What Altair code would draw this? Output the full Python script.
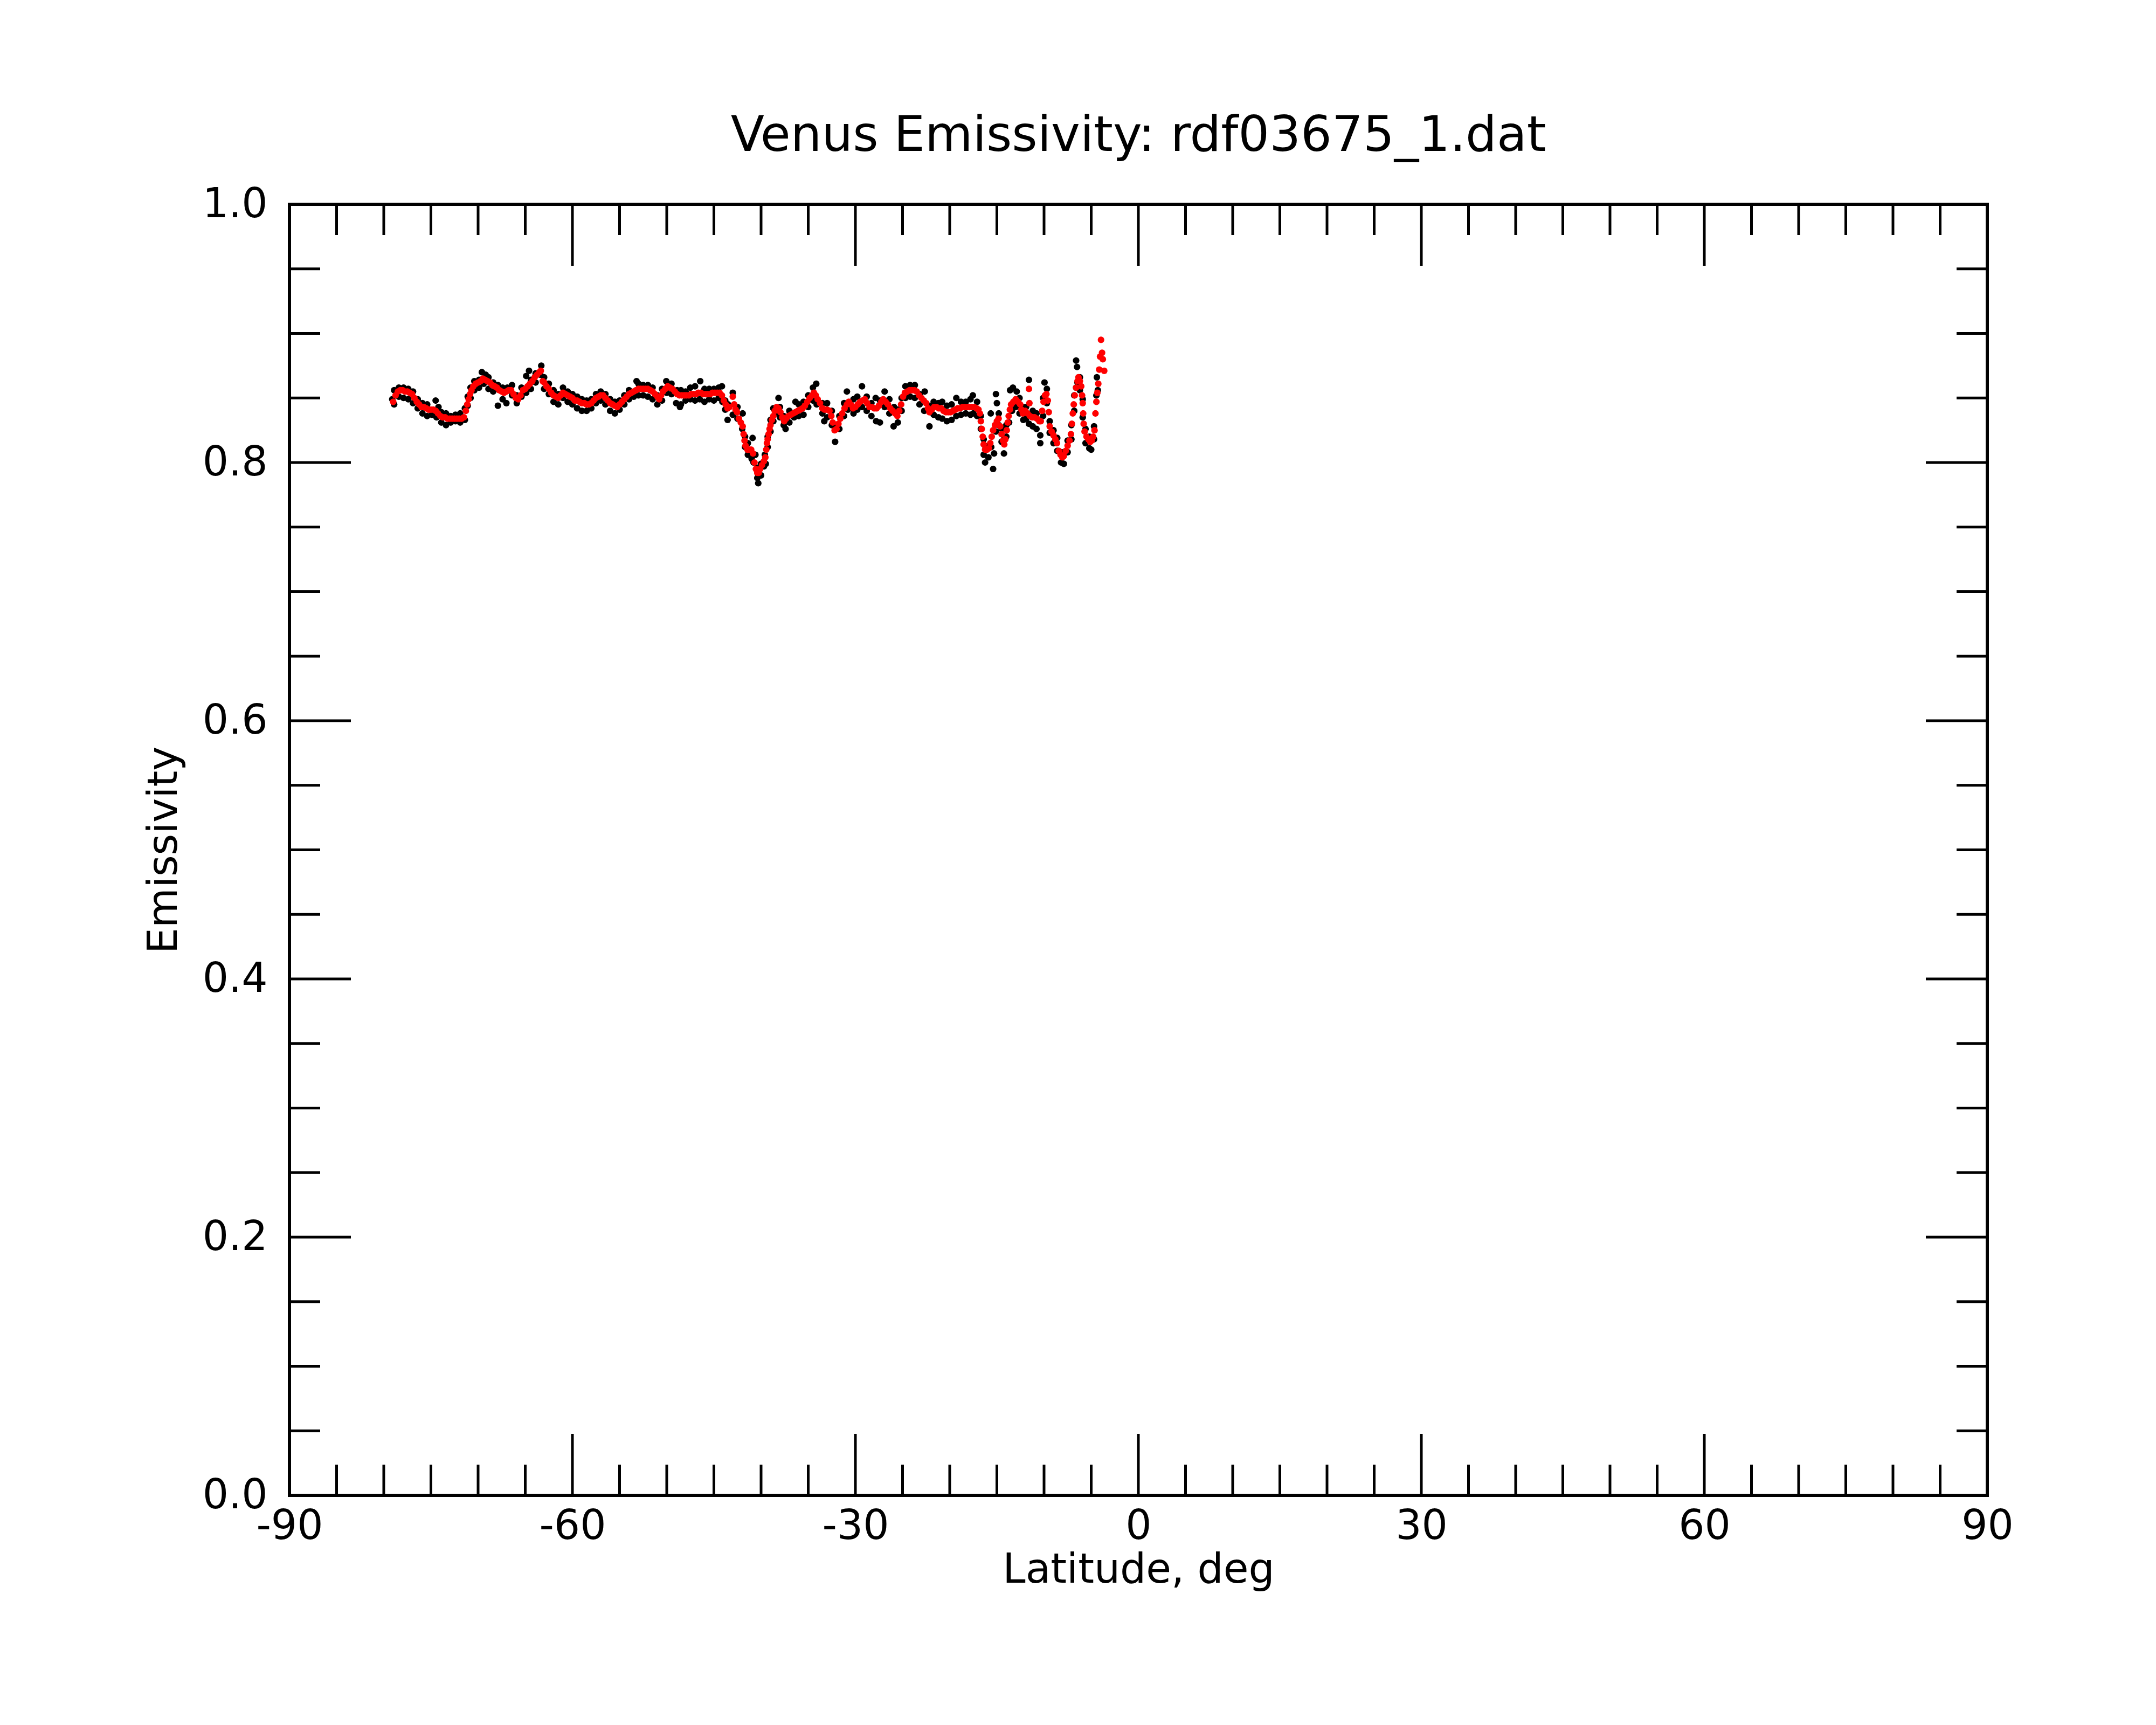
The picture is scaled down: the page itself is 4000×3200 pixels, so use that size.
import altair as alt
import pandas as pd

TITLE = "Venus Emissivity: rdf03675_1.dat"
X_TITLE = "Latitude, deg"
Y_TITLE = "Emissivity"
X_LABELS = [-90, -60, -30, 0, 30, 60, 90]
Y_LABELS = [0.0, 0.2, 0.4, 0.6, 0.8, 1.0]
X_MAJOR = [-60, -30, 0, 30, 60]
X_MINOR = [-85, -80, -75, -70, -65, -55, -50, -45, -40, -35, -25, -20, -15, -10, -5,
           5, 10, 15, 20, 25, 35, 40, 45, 50, 55, 65, 70, 75, 80, 85]
Y_MAJOR = [0.2, 0.4, 0.6, 0.8]
Y_MINOR = [0.05, 0.1, 0.15, 0.25, 0.3, 0.35, 0.45, 0.5, 0.55, 0.65, 0.7, 0.75, 0.85, 0.9, 0.95]

# smoothed emissivity (red): (latitude, emissivity)
RED = [
    (-79.00, 0.847), (-78.75, 0.852), (-78.50, 0.855), (-78.25, 0.856), (-78.00, 0.856),
    (-77.75, 0.855), (-77.50, 0.855), (-77.25, 0.854), (-77.00, 0.853), (-76.75, 0.850),
    (-76.50, 0.847), (-76.25, 0.845), (-76.00, 0.843), (-75.75, 0.843), (-75.50, 0.842),
    (-75.25, 0.841), (-75.00, 0.841), (-74.75, 0.841), (-74.50, 0.840), (-74.25, 0.838),
    (-74.00, 0.836), (-73.75, 0.835), (-73.50, 0.835), (-73.25, 0.834), (-73.00, 0.834),
    (-72.75, 0.834), (-72.50, 0.834), (-72.25, 0.834), (-72.00, 0.834), (-71.75, 0.834),
    (-71.50, 0.835), (-71.30, 0.840), (-71.15, 0.845), (-71.00, 0.849), (-70.85, 0.853),
    (-70.70, 0.856), (-70.50, 0.859), (-70.25, 0.861), (-70.00, 0.862), (-69.75, 0.863),
    (-69.50, 0.865), (-69.25, 0.864), (-69.00, 0.863), (-68.75, 0.862), (-68.50, 0.860),
    (-68.25, 0.859), (-68.00, 0.858), (-67.75, 0.856), (-67.50, 0.855), (-67.25, 0.854),
    (-67.00, 0.855), (-66.75, 0.856), (-66.50, 0.856), (-66.25, 0.853), (-66.00, 0.850),
    (-65.75, 0.849), (-65.50, 0.852), (-65.25, 0.856), (-65.00, 0.857), (-64.75, 0.859),
    (-64.50, 0.861), (-64.25, 0.863), (-64.00, 0.866), (-63.75, 0.868), (-63.50, 0.870),
    (-63.35, 0.871), (-63.15, 0.863), (-63.00, 0.862), (-62.75, 0.859), (-62.50, 0.857),
    (-62.25, 0.854), (-62.00, 0.852), (-61.75, 0.851), (-61.50, 0.850), (-61.25, 0.852),
    (-61.00, 0.854), (-60.75, 0.853), (-60.50, 0.852), (-60.25, 0.851), (-60.00, 0.850),
    (-59.75, 0.848), (-59.50, 0.848), (-59.25, 0.847), (-59.00, 0.846), (-58.75, 0.846),
    (-58.50, 0.845), (-58.25, 0.845), (-58.00, 0.846), (-57.75, 0.848), (-57.50, 0.850),
    (-57.25, 0.851), (-57.00, 0.852), (-56.75, 0.852), (-56.50, 0.850), (-56.25, 0.848),
    (-56.00, 0.846), (-55.75, 0.845), (-55.50, 0.844), (-55.25, 0.843), (-55.00, 0.845),
    (-54.75, 0.847), (-54.50, 0.849), (-54.25, 0.851), (-54.00, 0.853), (-53.75, 0.854),
    (-53.50, 0.855), (-53.25, 0.856), (-53.00, 0.857), (-52.75, 0.857), (-52.50, 0.857),
    (-52.25, 0.857), (-52.00, 0.857), (-51.75, 0.856), (-51.50, 0.855), (-51.25, 0.853),
    (-51.00, 0.851), (-50.80, 0.849), (-50.60, 0.852), (-50.40, 0.855), (-50.15, 0.857),
    (-49.90, 0.859), (-49.65, 0.858), (-49.40, 0.857), (-49.15, 0.855), (-48.90, 0.853),
    (-48.65, 0.852), (-48.40, 0.852), (-48.15, 0.852), (-47.90, 0.852), (-47.65, 0.852),
    (-47.40, 0.853), (-47.15, 0.853), (-46.90, 0.853), (-46.65, 0.854), (-46.40, 0.854),
    (-46.15, 0.853), (-45.90, 0.853), (-45.65, 0.853), (-45.40, 0.853), (-45.15, 0.854),
    (-44.90, 0.854), (-44.65, 0.854), (-44.40, 0.854), (-44.15, 0.852), (-43.95, 0.848),
    (-43.75, 0.845), (-43.55, 0.842), (-43.35, 0.843), (-43.00, 0.851), (-42.85, 0.845),
    (-42.70, 0.841), (-42.55, 0.839), (-42.35, 0.834), (-42.15, 0.831), (-41.95, 0.828),
    (-41.85, 0.822), (-41.75, 0.817), (-41.65, 0.813), (-41.45, 0.810), (-41.25, 0.810),
    (-41.05, 0.810), (-40.85, 0.807), (-40.70, 0.800), (-40.55, 0.795), (-40.40, 0.792),
    (-40.25, 0.792), (-40.10, 0.795), (-39.90, 0.798), (-39.70, 0.801), (-39.55, 0.804),
    (-39.45, 0.810), (-39.38, 0.815), (-39.30, 0.818), (-39.20, 0.822), (-39.10, 0.826),
    (-39.00, 0.829), (-38.85, 0.833), (-38.70, 0.836), (-38.55, 0.840), (-38.35, 0.843),
    (-38.15, 0.842), (-37.95, 0.839), (-37.75, 0.835), (-37.55, 0.832), (-37.35, 0.834),
    (-37.10, 0.836), (-36.85, 0.837), (-36.60, 0.838), (-36.35, 0.839), (-36.10, 0.840),
    (-35.85, 0.841), (-35.60, 0.842), (-35.35, 0.844), (-35.10, 0.847), (-34.85, 0.850),
    (-34.60, 0.852), (-34.40, 0.854), (-34.20, 0.852), (-34.00, 0.849), (-33.75, 0.846),
    (-33.50, 0.842), (-33.25, 0.841), (-33.00, 0.841), (-32.75, 0.840), (-32.55, 0.836),
    (-32.40, 0.831), (-32.20, 0.825), (-32.00, 0.826), (-31.80, 0.830), (-31.60, 0.834),
    (-31.40, 0.838), (-31.15, 0.842), (-30.90, 0.845), (-30.70, 0.847), (-30.50, 0.845),
    (-30.25, 0.842), (-30.00, 0.843), (-29.75, 0.845), (-29.50, 0.847), (-29.25, 0.848),
    (-29.00, 0.849), (-28.75, 0.846), (-28.50, 0.843), (-28.25, 0.843), (-28.00, 0.842),
    (-27.75, 0.842), (-27.50, 0.844), (-27.25, 0.847), (-27.05, 0.849), (-26.80, 0.847),
    (-26.55, 0.845), (-26.30, 0.842), (-26.05, 0.840), (-25.80, 0.838), (-25.55, 0.836),
    (-25.35, 0.840), (-25.15, 0.845), (-24.95, 0.851), (-24.75, 0.854), (-24.50, 0.855),
    (-24.25, 0.856), (-24.00, 0.856), (-23.75, 0.856), (-23.50, 0.855), (-23.25, 0.852),
    (-23.00, 0.850), (-22.75, 0.848), (-22.50, 0.846), (-22.30, 0.842), (-22.15, 0.839),
    (-21.90, 0.841), (-21.65, 0.843), (-21.40, 0.843), (-21.15, 0.842), (-20.90, 0.842),
    (-20.65, 0.840), (-20.40, 0.839), (-20.15, 0.839), (-19.90, 0.839), (-19.65, 0.840),
    (-19.40, 0.841), (-19.15, 0.842), (-18.90, 0.842), (-18.65, 0.843), (-18.40, 0.843),
    (-18.15, 0.843), (-17.90, 0.843), (-17.65, 0.843), (-17.40, 0.843), (-17.15, 0.842),
    (-16.95, 0.841), (-16.80, 0.838), (-16.70, 0.832), (-16.60, 0.826), (-16.50, 0.820),
    (-16.40, 0.814), (-16.25, 0.810), (-16.05, 0.810), (-15.85, 0.811), (-15.70, 0.815),
    (-15.55, 0.820), (-15.40, 0.825), (-15.20, 0.829), (-15.00, 0.832), (-14.82, 0.834),
    (-14.65, 0.828), (-14.50, 0.822), (-14.35, 0.817), (-14.22, 0.814), (-14.10, 0.818),
    (-13.96, 0.825), (-13.85, 0.831), (-13.75, 0.836), (-13.62, 0.841), (-13.49, 0.845),
    (-13.25, 0.847), (-13.01, 0.849), (-12.75, 0.847), (-12.53, 0.845), (-12.40, 0.841),
    (-12.25, 0.838), (-12.00, 0.840), (-11.75, 0.838), (-11.60, 0.857), (-11.55, 0.846),
    (-11.50, 0.836), (-11.25, 0.835), (-11.00, 0.835), (-10.75, 0.834), (-10.50, 0.832),
    (-10.35, 0.832), (-10.20, 0.840), (-10.05, 0.847), (-9.90, 0.852), (-9.75, 0.853),
    (-9.60, 0.848), (-9.50, 0.839), (-9.40, 0.828), (-9.20, 0.824), (-9.00, 0.821),
    (-8.80, 0.818), (-8.63, 0.815), (-8.44, 0.809), (-8.25, 0.806), (-8.06, 0.804),
    (-7.90, 0.805), (-7.70, 0.809), (-7.50, 0.813), (-7.30, 0.817), (-7.15, 0.822),
    (-7.05, 0.830), (-6.95, 0.838), (-6.85, 0.845), (-6.75, 0.852), (-6.60, 0.858),
    (-6.45, 0.863), (-6.35, 0.866), (-6.20, 0.863), (-6.06, 0.859), (-5.97, 0.852),
    (-5.90, 0.846), (-5.85, 0.838), (-5.80, 0.830), (-5.70, 0.824), (-5.50, 0.820),
    (-5.30, 0.818), (-5.10, 0.816), (-4.95, 0.817), (-4.80, 0.820), (-4.65, 0.825),
    (-4.55, 0.838), (-4.45, 0.847), (-4.35, 0.854), (-4.25, 0.861), (-4.15, 0.872),
    (-4.06, 0.882), (-3.96, 0.895), (-3.85, 0.885), (-3.77, 0.880), (-3.62, 0.871),
]

# raw emissivity samples (black): (latitude, emissivity)
BLACK = [
    (-79.1, 0.849), (-78.9, 0.845), (-78.9, 0.856), (-78.4, 0.851), (-78.4, 0.858),
    (-77.9, 0.850), (-77.9, 0.858), (-77.4, 0.849), (-77.4, 0.857), (-76.9, 0.846),
    (-76.9, 0.855), (-76.4, 0.842), (-76.4, 0.849), (-75.9, 0.838), (-75.9, 0.846),
    (-75.4, 0.836), (-75.4, 0.845), (-74.9, 0.837), (-74.5, 0.848), (-74.4, 0.835),
    (-74.2, 0.843), (-73.9, 0.831), (-73.9, 0.839), (-73.4, 0.829), (-73.4, 0.838),
    (-72.9, 0.831), (-72.9, 0.836), (-72.4, 0.832), (-72.4, 0.837), (-71.9, 0.831),
    (-71.9, 0.838), (-71.4, 0.833), (-71.4, 0.842), (-71.1, 0.844), (-71.1, 0.851),
    (-70.8, 0.850), (-70.8, 0.858), (-70.4, 0.856), (-70.4, 0.863), (-69.9, 0.858),
    (-69.9, 0.864), (-69.6, 0.870), (-69.4, 0.861), (-69.2, 0.868), (-68.9, 0.857),
    (-68.9, 0.866), (-68.4, 0.855), (-68.4, 0.862), (-67.9, 0.844), (-67.9, 0.860),
    (-67.4, 0.849), (-67.4, 0.858), (-67.0, 0.846), (-66.9, 0.858), (-66.4, 0.852),
    (-66.4, 0.860), (-65.9, 0.846), (-65.9, 0.852), (-65.4, 0.851), (-65.4, 0.858),
    (-64.9, 0.854), (-64.9, 0.867), (-64.6, 0.871), (-64.4, 0.857), (-64.4, 0.864),
    (-63.9, 0.862), (-63.9, 0.869), (-63.4, 0.868), (-63.3, 0.875), (-63.0, 0.857),
    (-63.0, 0.866), (-62.5, 0.853), (-62.5, 0.861), (-62.0, 0.847), (-62.0, 0.856),
    (-61.5, 0.845), (-61.5, 0.853), (-61.0, 0.850), (-61.0, 0.858), (-60.5, 0.847),
    (-60.5, 0.855), (-60.0, 0.845), (-60.0, 0.853), (-59.5, 0.842), (-59.5, 0.851),
    (-59.0, 0.840), (-59.0, 0.849), (-58.5, 0.840), (-58.5, 0.848), (-58.0, 0.842),
    (-58.0, 0.849), (-57.5, 0.846), (-57.5, 0.853), (-57.0, 0.848), (-57.0, 0.855),
    (-56.5, 0.845), (-56.5, 0.853), (-56.0, 0.840), (-56.0, 0.849), (-55.5, 0.838),
    (-55.5, 0.847), (-55.0, 0.841), (-55.0, 0.848), (-54.5, 0.845), (-54.5, 0.852),
    (-54.0, 0.849), (-54.0, 0.856), (-53.5, 0.851), (-53.2, 0.863), (-53.0, 0.852),
    (-53.0, 0.861), (-52.5, 0.852), (-52.5, 0.860), (-52.0, 0.851), (-52.0, 0.860),
    (-51.5, 0.849), (-51.5, 0.858), (-51.0, 0.845), (-51.0, 0.852), (-50.5, 0.848),
    (-50.5, 0.857), (-50.05, 0.863), (-50.0, 0.854), (-49.5, 0.853), (-49.5, 0.861),
    (-49.0, 0.846), (-48.9, 0.856), (-48.6, 0.843), (-48.5, 0.845), (-48.5, 0.856),
    (-48.0, 0.848), (-48.0, 0.855), (-47.5, 0.849), (-47.5, 0.858), (-47.0, 0.848),
    (-47.0, 0.859), (-46.5, 0.849), (-46.45, 0.863), (-46.0, 0.847), (-46.0, 0.857),
    (-45.5, 0.849), (-45.5, 0.857), (-45.0, 0.848), (-45.0, 0.857), (-44.5, 0.850),
    (-44.5, 0.858), (-44.15, 0.859), (-44.1, 0.847), (-43.8, 0.841), (-43.8, 0.848),
    (-43.55, 0.833), (-43.5, 0.845), (-43.0, 0.837), (-43.0, 0.854), (-42.5, 0.834),
    (-42.5, 0.843), (-42.0, 0.826), (-41.95, 0.838), (-41.7, 0.812), (-41.7, 0.820),
    (-41.4, 0.806), (-41.4, 0.815), (-41.0, 0.803), (-40.9, 0.819), (-40.8, 0.800),
    (-40.6, 0.806), (-40.4, 0.788), (-40.4, 0.796), (-40.3, 0.784), (-40.0, 0.790),
    (-40.0, 0.799), (-39.7, 0.797), (-39.6, 0.806), (-39.5, 0.799), (-39.3, 0.812),
    (-39.3, 0.820), (-39.0, 0.824), (-39.0, 0.833), (-38.7, 0.832), (-38.7, 0.842),
    (-38.3, 0.838), (-38.15, 0.850), (-38.0, 0.835), (-38.0, 0.843), (-37.6, 0.829),
    (-37.6, 0.836), (-37.4, 0.826), (-37.0, 0.831), (-37.0, 0.840), (-36.5, 0.835),
    (-36.35, 0.847), (-36.0, 0.836), (-36.0, 0.845), (-35.5, 0.837), (-35.5, 0.847),
    (-35.0, 0.843), (-35.0, 0.852), (-34.5, 0.848), (-34.5, 0.858), (-34.15, 0.861),
    (-34.1, 0.845), (-33.5, 0.838), (-33.5, 0.846), (-33.3, 0.832), (-33.0, 0.835),
    (-33.0, 0.846), (-32.5, 0.829), (-32.5, 0.840), (-32.2, 0.829), (-32.15, 0.816),
    (-31.7, 0.826), (-31.7, 0.836), (-31.2, 0.836), (-31.2, 0.846), (-30.9, 0.855),
    (-30.8, 0.841), (-30.2, 0.838), (-30.2, 0.849), (-29.8, 0.841), (-29.8, 0.851),
    (-29.3, 0.843), (-29.3, 0.859), (-28.8, 0.840), (-28.8, 0.851), (-28.3, 0.836),
    (-28.3, 0.846), (-27.85, 0.850), (-27.8, 0.832), (-27.4, 0.831), (-27.4, 0.848),
    (-26.9, 0.843), (-26.9, 0.855), (-26.4, 0.838), (-26.4, 0.849), (-25.95, 0.828),
    (-25.9, 0.843), (-25.5, 0.831), (-25.5, 0.841), (-25.1, 0.840), (-25.1, 0.850),
    (-24.7, 0.850), (-24.7, 0.859), (-24.2, 0.851), (-24.2, 0.860), (-23.7, 0.850),
    (-23.7, 0.860), (-23.2, 0.845), (-23.2, 0.853), (-22.7, 0.840), (-22.65, 0.855),
    (-22.2, 0.844), (-22.15, 0.828), (-21.7, 0.837), (-21.7, 0.847), (-21.2, 0.835),
    (-21.2, 0.846), (-20.8, 0.834), (-20.8, 0.847), (-20.3, 0.832), (-20.3, 0.844),
    (-19.8, 0.833), (-19.8, 0.845), (-19.3, 0.836), (-19.3, 0.850), (-18.8, 0.837),
    (-18.8, 0.847), (-18.3, 0.838), (-18.3, 0.847), (-17.8, 0.837), (-17.8, 0.849),
    (-17.55, 0.852), (-17.5, 0.838), (-17.1, 0.836), (-17.1, 0.847), (-16.7, 0.826),
    (-16.7, 0.836), (-16.4, 0.806), (-16.4, 0.818), (-16.25, 0.800), (-16.2, 0.812),
    (-15.9, 0.804), (-15.9, 0.813), (-15.65, 0.838), (-15.6, 0.812), (-15.4, 0.795),
    (-15.3, 0.807), (-15.1, 0.853), (-15.1, 0.824), (-15.0, 0.846), (-14.8, 0.829),
    (-14.8, 0.838), (-14.5, 0.816), (-14.5, 0.826), (-14.25, 0.807), (-14.25, 0.818),
    (-14.0, 0.820), (-14.0, 0.829), (-13.7, 0.831), (-13.6, 0.856), (-13.4, 0.840),
    (-13.3, 0.858), (-13.0, 0.843), (-12.9, 0.855), (-12.6, 0.838), (-12.6, 0.850),
    (-12.2, 0.833), (-12.2, 0.843), (-11.9, 0.834), (-11.9, 0.843), (-11.6, 0.830),
    (-11.6, 0.864), (-11.2, 0.828), (-11.2, 0.840), (-10.8, 0.826), (-10.8, 0.838),
    (-10.4, 0.815), (-10.4, 0.821), (-10.1, 0.836), (-10.1, 0.850), (-9.95, 0.862),
    (-9.7, 0.846), (-9.7, 0.857), (-9.4, 0.823), (-9.4, 0.832), (-9.0, 0.815),
    (-9.0, 0.825), (-8.6, 0.809), (-8.6, 0.819), (-8.2, 0.800), (-8.2, 0.808),
    (-7.9, 0.799), (-7.9, 0.808), (-7.5, 0.808), (-7.5, 0.817), (-7.1, 0.818),
    (-7.1, 0.829), (-6.8, 0.840), (-6.8, 0.852), (-6.6, 0.858), (-6.6, 0.879),
    (-6.5, 0.874), (-6.45, 0.862), (-6.2, 0.856), (-6.2, 0.866), (-5.9, 0.835),
    (-5.9, 0.849), (-5.6, 0.815), (-5.6, 0.826), (-5.2, 0.811), (-5.2, 0.820),
    (-5.0, 0.810), (-4.7, 0.818), (-4.7, 0.828), (-4.45, 0.852), (-4.4, 0.866),
    (-4.3, 0.856),
]

W, H = 3150, 2395
MAJ, MIN = 114, 57
FONT = "DejaVu Sans"

xs = alt.Scale(domain=[-90, 90], nice=False, zero=False)
ys = alt.Scale(domain=[0, 1], nice=False, zero=False)

black_df = pd.DataFrame(BLACK, columns=["lat", "val"])
red_df = pd.DataFrame(RED, columns=["lat", "val"])

x_axis = alt.Axis(
    values=X_LABELS, labelExpr="datum.value", ticks=False, domain=False, grid=False,
    labelFont=FONT, labelFontSize=76, labelColor="black", labelPadding=20,
    labelFlush=False, labelOverlap=False, labelBaseline="top",
    title=X_TITLE, titleFont=FONT, titleFontSize=76, titleFontWeight="normal",
    titleColor="black", titleY=161, titleBaseline="alphabetic",
)
y_axis = alt.Axis(
    values=Y_LABELS, format=".1f", ticks=False, domain=False, grid=False,
    labelFont=FONT, labelFontSize=76, labelColor="black", labelPadding=41,
    labelFlush=False, labelOverlap=False,
    title=Y_TITLE, titleFont=FONT, titleFontSize=76, titleFontWeight="normal",
    titleColor="black", titleAngle=270, titleX=-210, titleY=H / 2,
    titleAlign="center", titleBaseline="alphabetic",
)

black_layer = alt.Chart(black_df).mark_circle(size=150, opacity=1, color="black").encode(
    x=alt.X("lat:Q", scale=xs, axis=x_axis),
    y=alt.Y("val:Q", scale=ys, axis=y_axis),
)
red_layer = alt.Chart(red_df).mark_circle(size=150, opacity=1, color="#ff0000").encode(
    x=alt.X("lat:Q", scale=xs, axis=None),
    y=alt.Y("val:Q", scale=ys, axis=None),
)


def xticks(vals, y0, y1):
    return alt.Chart(pd.DataFrame({"lat": vals})).mark_rule(color="black", strokeWidth=5).encode(
        x=alt.X("lat:Q", scale=xs, axis=None), y=alt.value(y0), y2=alt.value(y1)
    )


def yticks(vals, x0, x1):
    return alt.Chart(pd.DataFrame({"val": vals})).mark_rule(color="black", strokeWidth=5).encode(
        y=alt.Y("val:Q", scale=ys, axis=None), x=alt.value(x0), x2=alt.value(x1)
    )


ticks = [
    xticks(X_MAJOR, H, H - MAJ), xticks(X_MINOR, H, H - MIN),
    xticks(X_MAJOR, 0, MAJ), xticks(X_MINOR, 0, MIN),
    yticks(Y_MAJOR, 0, MAJ), yticks(Y_MINOR, 0, MIN),
    yticks(Y_MAJOR, W, W - MAJ), yticks(Y_MINOR, W, W - MIN),
]

chart = alt.layer(black_layer, red_layer, *ticks).resolve_axis(
    x="independent", y="independent"
).properties(
    width=W, height=H,
    title=alt.TitleParams(
        text=TITLE, font=FONT, fontSize=91, fontWeight="normal", color="black",
        anchor="middle", frame="group", baseline="alphabetic", offset=8, dy=38,
    ),
    autosize=alt.AutoSizeParams(type="none"),
    padding={"left": 529, "top": 371, "right": 300, "bottom": 410},
    background="white",
).configure_view(stroke="black", strokeWidth=6)

chart.save("out.html", embed_options={"renderer": "svg", "actions": False})
